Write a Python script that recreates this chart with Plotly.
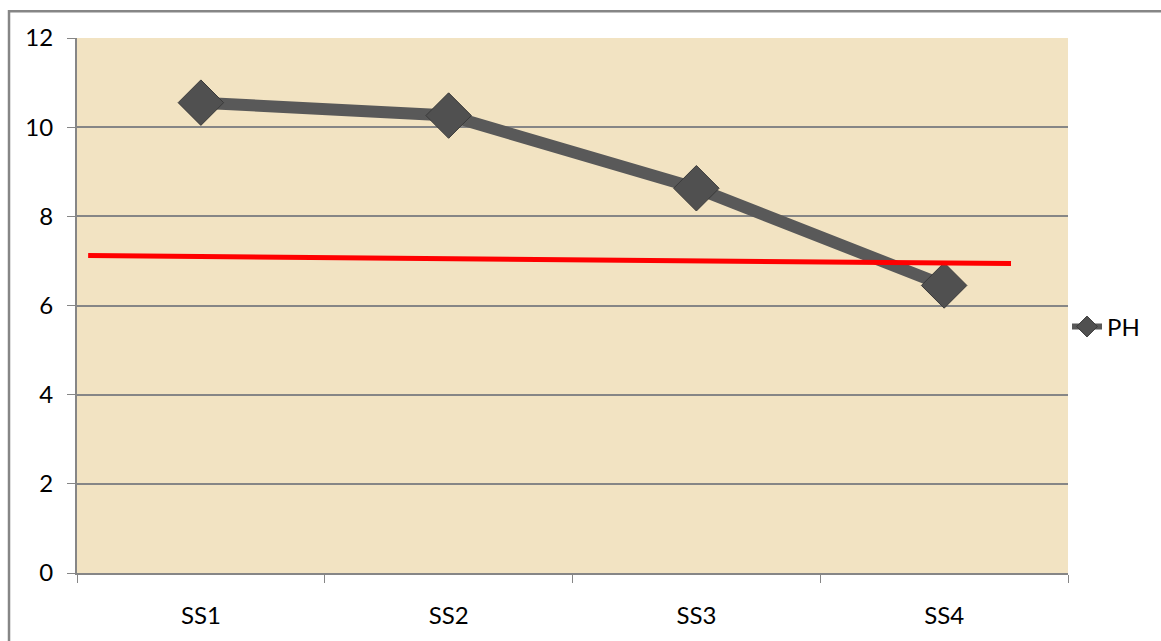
import plotly.graph_objects as go

# category labels and PH values
sites = ["SS1", "SS2", "SS3", "SS4"]
ph = [10.55, 10.26, 8.63, 6.45]

# hand-drawn red reference line (x in category-width units, 0..4)
ref_x = [0.045, 3.77]
ref_y = [7.12, 6.94]

fig = go.Figure()

fig.add_trace(go.Scatter(
    x=sites, y=ph, name="PH", mode="lines+markers", showlegend=False,
    line=dict(color="#595959", width=12),
    marker=dict(symbol="diamond", size=35, color="#505050",
                line=dict(color="#3a3a3a", width=1)),
))

# legend entry only (smaller symbol, like the original legend key)
fig.add_trace(go.Scatter(
    x=[None], y=[None], name="PH", mode="lines+markers",
    line=dict(color="#595959", width=6),
    marker=dict(symbol="diamond", size=22, color="#505050",
                line=dict(color="#3a3a3a", width=1)),
))

fig.add_trace(go.Scatter(
    x=ref_x, y=ref_y, xaxis="x2", mode="lines", showlegend=False,
    line=dict(color="#ff0000", width=5), hoverinfo="skip",
))

font = dict(family="Lato, Open Sans, sans-serif", size=24, color="#000000")

fig.update_layout(
    width=1161, height=641,
    margin=dict(l=77, r=93, t=38, b=65),
    paper_bgcolor="#ffffff",
    plot_bgcolor="#f2e3c2",
    font=font,
    showlegend=True,
    legend=dict(x=0.999, y=0.46, xanchor="left", yanchor="middle",
                bgcolor="rgba(0,0,0,0)", font=font),
    xaxis=dict(
        range=[-0.5, 3.5], tickson="boundaries", ticks="outside", ticklen=8,
        tickcolor="#868686", showgrid=False, showline=True,
        linecolor="#868686", linewidth=2, ticklabelstandoff=20,
        zeroline=False,
    ),
    xaxis2=dict(range=[0, 4], overlaying="x", visible=False),
    yaxis=dict(
        range=[0, 12], dtick=2, ticks="outside", ticklen=8,
        tickcolor="#868686", showgrid=True, gridcolor="#868686",
        gridwidth=1.5, showline=True, linecolor="#868686", linewidth=2,
        zeroline=False, ticklabelstandoff=9,
    ),
)

# outer chart border
fig.add_shape(type="rect", xref="paper", yref="paper",
              x0=-0.0686, x1=1.1, y0=-0.2, y1=1.0502,
              line=dict(color="#868686", width=2.5), layer="below")

fig.write_html(
    "out.html",
    config={"displayModeBar": False},
    post_script="document.body.style.margin='0';",
)
